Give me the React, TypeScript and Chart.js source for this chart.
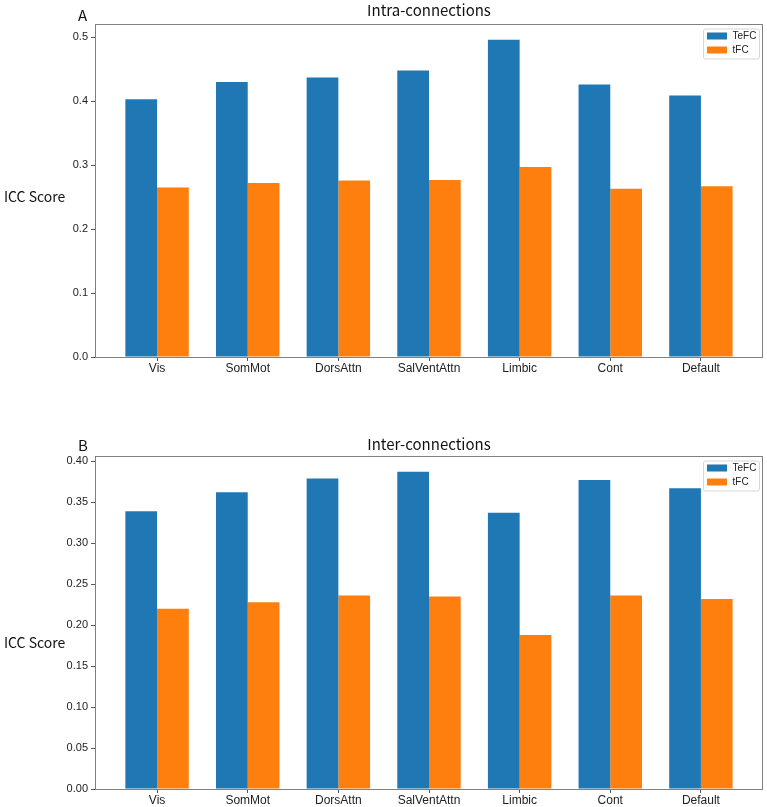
import React, { useEffect, useRef } from "react";
import { Chart, registerables } from "chart.js";

Chart.register(...registerables);

// Yeo 7-network labels shared by both panels
const regions = ["Vis", "SomMot", "DorsAttn", "SalVentAttn", "Limbic", "Cont", "Default"];

// Panel A: intra-network connections
const intraTeFC = [0.403, 0.430, 0.437, 0.448, 0.496, 0.426, 0.409];
const intraTFC = [0.265, 0.272, 0.276, 0.277, 0.297, 0.263, 0.267];
const intraTicks = [0, 0.1, 0.2, 0.3, 0.4, 0.5];

// Panel B: inter-network connections
const interTeFC = [0.339, 0.362, 0.379, 0.387, 0.337, 0.377, 0.367];
const interTFC = [0.220, 0.228, 0.236, 0.235, 0.188, 0.236, 0.232];
const interTicks = [0, 0.05, 0.1, 0.15, 0.2, 0.25, 0.3, 0.35, 0.4];

const seriesNames = ["TeFC", "tFC"];
const seriesColors = ["#1f77b4", "#ff7f0e"];

const BAR_FRACTION = 0.35;
const TITLE_FONT = '"Noto Sans CJK SC", "Noto Sans", sans-serif';
const TICK_FONT = "Liberation Sans";

const panelDecor = {
  id: "panelDecor",
  afterDatasetsDraw(chart: any, _args: any, opts: any) {
    const { ctx, chartArea: a } = chart;
    ctx.save();
    // full box frame around the plotting area
    ctx.strokeStyle = "#808080";
    ctx.lineWidth = 1;
    ctx.strokeRect(
      Math.floor(a.left) + 0.5,
      Math.floor(a.top) + 0.5,
      Math.round(a.right - a.left) - 1,
      Math.round(a.bottom - a.top)
    );

    // title, panel letter and horizontal axis label
    ctx.fillStyle = "#111";
    ctx.textBaseline = "alphabetic";
    ctx.font = `15px ${TITLE_FONT}`;
    ctx.textAlign = "center";
    ctx.fillText(opts.title, (a.left + a.right) / 2, opts.titleBaseline);
    ctx.textAlign = "left";
    ctx.font = `15px ${TITLE_FONT}`;
    ctx.fillText(opts.letter, 78, opts.letterBaseline);
    ctx.font = `14px ${TITLE_FONT}`;
    ctx.fillText("ICC Score", 4, opts.yLabelBaseline);

    // legend box in the upper right corner
    const bw = 56;
    const bh = 30;
    const bx = a.right - 4 - bw;
    const by = a.top + 4.5;
    ctx.beginPath();
    ctx.roundRect(bx + 0.5, by + 0.5, bw, bh, 2);
    ctx.fillStyle = "rgba(255,255,255,0.85)";
    ctx.fill();
    ctx.strokeStyle = "#d6d6d6";
    ctx.stroke();
    ctx.font = `10px "${TICK_FONT}"`;
    ctx.textBaseline = "middle";
    seriesNames.forEach((name, i) => {
      const cy = by + 7.5 + i * 14;
      ctx.fillStyle = seriesColors[i];
      ctx.fillRect(bx + 4, cy - 3.5, 20, 7);
      ctx.fillStyle = "#222";
      ctx.fillText(name, bx + 29.5, cy);
    });
    ctx.restore();
  },
};

type PanelProps = {
  letter: string;
  title: string;
  tefc: number[];
  tfc: number[];
  ticks: number[];
  decimals: number;
  height: number;
  padTop: number;
  xAxisHeight: number;
  titleBaseline: number;
  letterBaseline: number;
  yLabelBaseline: number;
};

function BarPanel(p: PanelProps) {
  const ref = useRef<HTMLCanvasElement | null>(null);

  useEffect(() => {
    if (!ref.current) return;
    const n = regions.length;
    const span = n - 1 + 2 * BAR_FRACTION;
    const xMin = -BAR_FRACTION - 0.05 * span;
    const xMax = n - 1 + BAR_FRACTION + 0.05 * span;
    const yMax = Math.max(...p.tefc, ...p.tfc) * 1.05;

    const tickGrid = {
      display: true,
      drawOnChartArea: false,
      drawTicks: true,
      tickLength: 4,
      color: "#555",
      lineWidth: 1,
    };

    const chart = new Chart(ref.current, {
      type: "bar",
      data: {
        datasets: [p.tefc, p.tfc].map((vals, si) => ({
          label: seriesNames[si],
          data: vals.map((v, i) => ({ x: i, y: v })),
          backgroundColor: seriesColors[si],
          borderWidth: 0,
          categoryPercentage: BAR_FRACTION * 2,
          barPercentage: 1.0,
        })),
      },
      options: {
        animation: false,
        responsive: false,
        layout: { padding: { top: p.padTop, right: 4, bottom: 0, left: 0 } },
        plugins: {
          legend: { display: false },
          tooltip: { enabled: false },
          title: { display: false },
          panelDecor: {
            title: p.title,
            letter: p.letter,
            titleBaseline: p.titleBaseline,
            letterBaseline: p.letterBaseline,
            yLabelBaseline: p.yLabelBaseline,
          },
        } as any,
        scales: {
          x: {
            type: "linear",
            min: xMin,
            max: xMax,
            offset: false,
            afterBuildTicks: (scale: any) => {
              scale.ticks = regions.map((_, i) => ({ value: i }));
            },
            afterFit: (scale: any) => {
              scale.height = p.xAxisHeight;
            },
            grid: { ...tickGrid, offset: false },
            border: { display: false },
            ticks: {
              color: "#222",
              padding: 0,
              maxRotation: 0,
              autoSkip: false,
              font: { family: TICK_FONT, size: 12 },
              callback: (v: any) => regions[Math.round(Number(v))] ?? "",
            },
          },
          y: {
            min: 0,
            max: yMax,
            afterBuildTicks: (scale: any) => {
              scale.ticks = p.ticks.map((v) => ({ value: v }));
            },
            afterFit: (scale: any) => {
              scale.width = 95;
            },
            grid: tickGrid,
            border: { display: false },
            ticks: {
              color: "#222",
              padding: 3,
              font: { family: TICK_FONT, size: 11 },
              callback: (v: any) => Number(v).toFixed(p.decimals),
            },
          },
        },
      } as any,
      plugins: [panelDecor],
    });
    return () => chart.destroy();
  }, []);

  return (
    <canvas
      ref={ref}
      width={767}
      height={p.height}
      style={{ display: "block", width: 767, height: p.height }}
    />
  );
}

export default function App() {
  return (
    <div
      style={{
        position: "absolute",
        left: 0,
        top: 0,
        width: 767,
        height: 807,
        background: "#fff",
        overflow: "hidden",
      }}
    >
      <BarPanel
        letter="A"
        title="Intra-connections"
        tefc={intraTeFC}
        tfc={intraTFC}
        ticks={intraTicks}
        decimals={1}
        height={400}
        padTop={24}
        xAxisHeight={43}
        titleBaseline={16}
        letterBaseline={21}
        yLabelBaseline={202}
      />
      <BarPanel
        letter="B"
        title="Inter-connections"
        tefc={interTeFC}
        tfc={interTFC}
        ticks={interTicks}
        decimals={2}
        height={407}
        padTop={56}
        xAxisHeight={18}
        titleBaseline={50}
        letterBaseline={51}
        yLabelBaseline={248}
      />
    </div>
  );
}
